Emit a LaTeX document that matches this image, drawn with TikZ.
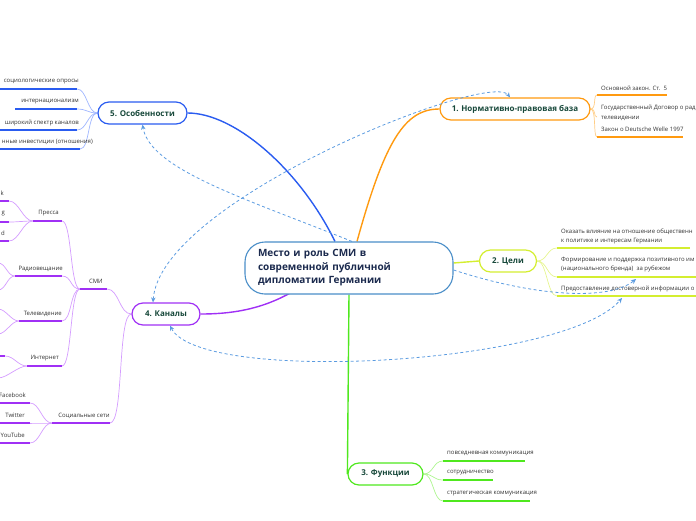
\documentclass[tikz,border=0pt]{standalone}
\usepackage{fontspec}
\setmainfont{Open Sans}
\usetikzlibrary{arrows.meta,calc,backgrounds}
\definecolor{cBlue}{HTML}{2A5CF0}
\definecolor{cBlueL}{HTML}{9FB6FF}
\definecolor{cOrange}{HTML}{FF9A10}
\definecolor{cOrangeL}{HTML}{FFCD85}
\definecolor{cLime}{HTML}{D4EE30}
\definecolor{cLimeL}{HTML}{E6F590}
\definecolor{cGreen}{HTML}{4FE81E}
\definecolor{cGreenL}{HTML}{ADF590}
\definecolor{cPurple}{HTML}{A030F5}
\definecolor{cPurpleL}{HTML}{D49CFF}
\definecolor{cCenter}{HTML}{4A8EC8}
\definecolor{cDash}{HTML}{5B9BE0}
\definecolor{tGreen}{HTML}{17483A}
\definecolor{tNavy}{HTML}{1B2A4E}
\definecolor{tGray}{HTML}{333333}
\tikzset{
  mainbox/.style={draw, line width=1.2, rounded corners=11, minimum height=22, inner sep=0,
    font=\fontsize{8}{9}\selectfont\bfseries, text=tGreen, fill=white},
  itm/.style={font=\fontsize{6}{9.5}\selectfont, text=tGray, inner sep=0, align=left},
  ul/.style={line width=1.8, draw=#1},
  lk/.style={line width=0.7, draw=#1},
  bigc/.style={line width=1.4, draw=#1},
  rel/.style={draw=cDash, line width=0.8, dash pattern=on 3pt off 2.5pt},
  tip/.style={-{Stealth[length=5,width=4.5]}},
  tips/.style={{Stealth[length=5,width=4.5]}-{Stealth[length=5,width=4.5]}}
}
\begin{document}
\begin{tikzpicture}[x=1pt,y=-1pt]
\useasboundingbox (0,0) rectangle (696,520);

% main nodes
\node[draw=cCenter, line width=1.1, rounded corners=20, minimum width=208, minimum height=52,
  text width=182, align=left, inner sep=0, font=\fontsize{10}{13.5}\selectfont\bfseries,
  text=tNavy, fill=white] (c) at (349,268) {Место и роль СМИ в\\современной публичной\\дипломатии Германии};
\node[mainbox, draw=cOrange, minimum width=150] (n1) at (515,109) {1. Нормативно-правовая база};
\node[mainbox, draw=cLime, minimum width=57] (n2) at (508,261) {2. Цели};
\node[mainbox, draw=cGreen, minimum width=75] (n3) at (385.5,474) {3. Функции};
\node[mainbox, draw=cPurple, minimum width=68] (n4) at (166,314) {4. Каналы};
\node[mainbox, draw=cBlue, minimum width=89] (n5) at (142.5,113) {5. Особенности};

% item coordinates
\coordinate (o1) at (597,95);  \coordinate (o1e) at (667,95);
\coordinate (o2) at (597,117);
\coordinate (o3) at (597,137); \coordinate (o3e) at (683,137);
\coordinate (g1) at (557,248); \coordinate (g1e) at (690,248);
\coordinate (g2) at (557,277); \coordinate (g2e) at (696,277);
\coordinate (g3) at (557,296); \coordinate (g3e) at (696,296);
\coordinate (f1) at (443,461); \coordinate (f1e) at (525,461);
\coordinate (f2) at (443,480); \coordinate (f2e) at (493,480);
\coordinate (f3) at (443,501); \coordinate (f3e) at (530,501);
\coordinate (s1) at (77,89);   \coordinate (s1b) at (0,89);
\coordinate (s2) at (77,109);  \coordinate (s2b) at (15,109);
\coordinate (s3) at (77,130);  \coordinate (s3b) at (0,130);
\coordinate (s4) at (80,149);  \coordinate (s4b) at (0,149);
\coordinate (cmE) at (107,289); \coordinate (cmS) at (80,289);
\coordinate (ssE) at (110,423); \coordinate (ssS) at (52,423);
\coordinate (prE) at (62,221); \coordinate (prS) at (33,221);
\coordinate (rvE) at (62,276); \coordinate (rvS) at (15,276);
\coordinate (tvE) at (62,321); \coordinate (tvS) at (19,321);
\coordinate (inE) at (62,366); \coordinate (inS) at (27,366);
\coordinate (k1) at (9,201); \coordinate (k1b) at (0,201);
\coordinate (k2) at (9,222); \coordinate (k2b) at (0,222);
\coordinate (k3) at (9,241); \coordinate (k3b) at (0,241);
\coordinate (r1) at (-2,263); \coordinate (r2) at (-2,290);
\coordinate (v1) at (-2,309); \coordinate (v2) at (-2,334);
\coordinate (i1) at (5,356); \coordinate (i1b) at (-1,356); \coordinate (i2) at (-2,378);
\coordinate (fb) at (30,403); \coordinate (fbb) at (0,403);
\coordinate (tw) at (30,423); \coordinate (twb) at (0,423);
\coordinate (yt) at (30,443); \coordinate (ytb) at (0,443);

\begin{scope}[on background layer]
  % main connectors
  \draw[bigc=cBlue] ($(c.north)+(-14,0)$) .. controls (300,170) and (235,113) .. (n5.east);
  \draw[bigc=cOrange] ($(c.north)+(8,0)$) .. controls (385,140) and (405,109) .. (n1.west);
  \draw[bigc=cLime] ($(c.east)+(0,-5)$) -- (n2.west);
  \draw[bigc=cGreen] (c.south) -- (n3.west);
  \draw[bigc=cPurple] ($(c.south)+(-58,-2)$) .. controls (260,310) and (230,314) .. (n4.east);
  % orange items
  \foreach \p in {o1,o2,o3} \draw[lk=cOrangeL] (n1.east) .. controls +(6,0) and +(-4,0) .. (\p);
  % lime items
  \foreach \p in {g1,g2,g3} \draw[lk=cLimeL] (n2.east) .. controls +(10,0) and +(-10,0) .. (\p);
  % green items
  \foreach \p in {f1,f2,f3} \draw[lk=cGreenL] (n3.east) .. controls +(10,0) and +(-10,0) .. (\p);
  % blue items
  \foreach \p in {s1,s2,s3,s4} \draw[lk=cBlueL] (n5.west) .. controls +(-10,0) and +(10,0) .. (\p);
  % purple tree
  \draw[lk=cPurpleL] (n4.west) .. controls +(-12,0) and +(12,0) .. (cmE);
  \draw[lk=cPurpleL] (n4.west) .. controls +(-14,0) and +(14,0) .. (ssE);
  \foreach \p in {prE,rvE,tvE,inE} \draw[lk=cPurpleL] (cmS) .. controls +(-10,0) and +(10,0) .. (\p);
  \foreach \p in {k1,k2,k3} \draw[lk=cPurpleL] (prS) .. controls +(-10,0) and +(10,0) .. (\p);
  \foreach \p in {r1,r2} \draw[lk=cPurpleL] (rvS) .. controls +(-8,0) and +(8,0) .. (\p);
  \foreach \p in {v1,v2} \draw[lk=cPurpleL] (tvS) .. controls +(-8,0) and +(8,0) .. (\p);
  \foreach \p in {i1,i2} \draw[lk=cPurpleL] (inS) .. controls +(-9,0) and +(9,0) .. (\p);
  \foreach \p in {fb,tw,yt} \draw[lk=cPurpleL] (ssS) .. controls +(-10,0) and +(10,0) .. (\p);
\end{scope}

% underlines
\draw[ul=cOrange] (o1) -- (o1e);
\draw[ul=cOrange] (o3) -- (o3e);
\draw[ul=cLime] (g1) -- (g1e);
\draw[ul=cLime] (g2) -- (g2e);
\draw[ul=cLime] (g3) -- (g3e);
\draw[ul=cGreen] (f1) -- (f1e);
\draw[ul=cGreen] (f2) -- (f2e);
\draw[ul=cGreen] (f3) -- (f3e);
\draw[ul=cBlue] (s1b) -- (s1);
\draw[ul=cBlue] (s2b) -- (s2);
\draw[ul=cBlue] (s3b) -- (s3);
\draw[ul=cBlue] (s4b) -- (s4);
\draw[ul=cPurple] (cmS) -- (cmE);
\draw[ul=cPurple] (ssS) -- (ssE);
\draw[ul=cPurple] (prS) -- (prE);
\draw[ul=cPurple] (rvS) -- (rvE);
\draw[ul=cPurple] (tvS) -- (tvE);
\draw[ul=cPurple] (inS) -- (inE);
\draw[ul=cPurple] (k1b) -- (k1);
\draw[ul=cPurple] (k2b) -- (k2);
\draw[ul=cPurple] (k3b) -- (k3);
\draw[ul=cPurple] (i1b) -- (i1);
\draw[ul=cPurple] (fbb) -- (fb);
\draw[ul=cPurple] (twb) -- (tw);
\draw[ul=cPurple] (ytb) -- (yt);

% item texts
\node[itm, anchor=west] (to1) at (601,88) {Основной закон. Ст.\ \ 5};
\node[itm, anchor=west] (to2) at (601,113) {Государственный Договор о рад\\телевидении};
\node[itm, anchor=west] (to3) at (601,129.5) {Закон о Deutsche Welle 1997};
\node[itm, anchor=west] (tg1) at (561,236.5) {Оказать влияние на отношение общественн\\к политике и интересам Германии};
\node[itm, anchor=west] (tg2) at (561,264.5) {Формирование и поддержка позитивного им\\(национального бренда)\ \ за рубежом};
\node[itm, anchor=west] (tg3) at (561,289) {Предоставление достоверной информации о};
\node[itm, anchor=west] (tf1) at (447,453.5) {повседневная коммуникация};
\node[itm, anchor=west] (tf2) at (447,472.5) {сотрудничество};
\node[itm, anchor=west] (tf3) at (447,493.5) {стратегическая коммуникация};
\node[itm, anchor=east] (ts1) at (79,81.5) {социологические опросы};
\node[itm, anchor=east] (ts2) at (79,101.5) {интернационализм};
\node[itm, anchor=east] (ts3) at (79,122.5) {широкий спектр каналов};
\node[itm, anchor=east] (ts4) at (93,141.5) {нные инвестиции (отношения)};
\node[itm, anchor=east] (tcm) at (103,281.5) {СМИ};
\node[itm, anchor=east] (tss) at (110,415.5) {Социальные сети};
\node[itm, anchor=east] (tpr) at (59,213.5) {Пресса};
\node[itm, anchor=east] (trv) at (63,268.5) {Радиовещание};
\node[itm, anchor=east] (ttv) at (62,313.5) {Телевидение};
\node[itm, anchor=east] (tin) at (59,358.5) {Интернет};
\node[itm, anchor=east] (tk1) at (4,193.5) {k};
\node[itm, anchor=east] (tk2) at (5,214) {g};
\node[itm, anchor=east] (tk3) at (5,233.5) {d};
\node[itm, anchor=east] (tfb) at (26,395.5) {Facebook};
\node[itm, anchor=east] (ttw) at (25,415.5) {Twitter};
\node[itm, anchor=east] (tyt) at (25,435.5) {YouTube};

% relations (dashed)
\coordinate (a4t) at ($(n4.north)+(-13,0)$);
\coordinate (a1t) at ($(n1.north)+(-5,0)$);
\draw[rel, tips] (a4t) .. controls (160,200) and (490,70) .. (a1t);
\coordinate (acn) at ($(c.north)+(3,0)$);
\draw[rel, tip] (acn) .. controls (250,200) and (150,170) .. (n5.south);
\coordinate (ace) at ($(c.east)+(0,2)$);
\coordinate (ag2) at (636,279);
\draw[rel, tip] (ace) .. controls (540,298) and (610,300) .. (ag2);
\coordinate (a4b) at ($(n4.south)+(4,0)$);
\coordinate (ag3) at (622,298);
\draw[rel, tips] (a4b) .. controls (200,385) and (565,365) .. (ag3);
\end{tikzpicture}
\end{document}
